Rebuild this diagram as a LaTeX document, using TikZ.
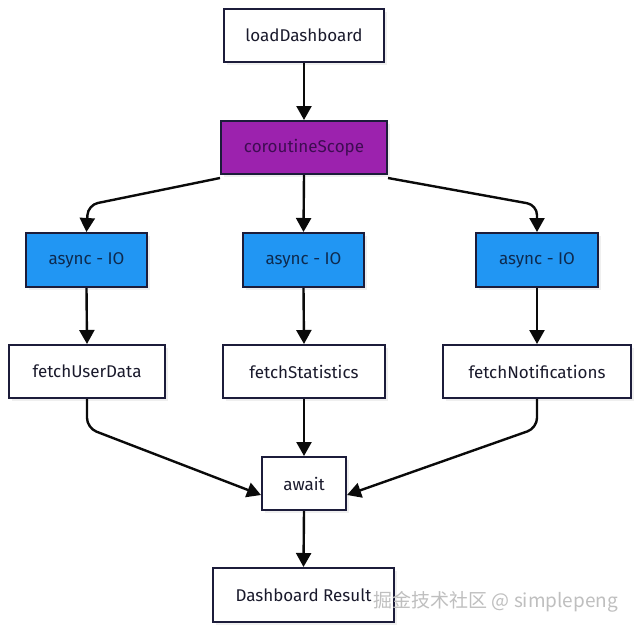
\documentclass[tikz,border=0pt]{standalone}
\usepackage{fontspec}
\setmainfont{Fira Sans}
\newfontfamily\cjkfont{Noto Sans CJK SC}
\usetikzlibrary{arrows.meta,shadows}
\definecolor{edgeblack}{HTML}{0A0A0A}
\definecolor{boxline}{HTML}{1C1C3A}
\definecolor{txt}{HTML}{1A1A2C}
\definecolor{purplefill}{HTML}{9C22AE}
\definecolor{purpletxt}{HTML}{3E0C52}
\definecolor{bluefill}{HTML}{2196F3}
\definecolor{bluetxt}{HTML}{0E2A4E}
\tikzset{
  box/.style={draw=boxline, line width=2pt, fill=white, text=txt, inner sep=0pt,
    font=\fontsize{17}{20}\selectfont,
    drop shadow={opacity=0.12, shadow xshift=3pt, shadow yshift=-3pt}},
  purplebox/.style={box, fill=purplefill, text=purpletxt},
  bluebox/.style={box, fill=bluefill, text=bluetxt},
  conn/.style={draw=edgeblack, line width=2.4pt, rounded corners=10pt,
    -{Triangle[length=14pt,width=15pt]}},
  wmark/.style={text=gray!50, font=\cjkfont\fontsize{19}{22}\selectfont}
}
\begin{document}
\begin{tikzpicture}[x=1pt,y=-1pt]
\useasboundingbox (0,0) rectangle (640,632);
\fill[white] (0,0) rectangle (640,632);
\node[box, minimum width=160pt, minimum height=53pt] (load) at (304,35.5) {loadDashboard};
\node[purplebox, minimum width=166pt, minimum height=53pt] (scope) at (304,147.5) {coroutineScope};
\node[bluebox, minimum width=121pt, minimum height=54pt] (a1) at (86.5,260) {async - IO};
\node[bluebox, minimum width=121pt, minimum height=54pt] (a2) at (303.5,260) {async - IO};
\node[bluebox, minimum width=122pt, minimum height=54pt] (a3) at (537,260) {async - IO};
\node[box, minimum width=156pt, minimum height=53pt] (f1) at (87,371.5) {fetchUserData};
\node[box, minimum width=162pt, minimum height=53pt] (f2) at (304,371.5) {fetchStatistics};
\node[box, minimum width=188pt, minimum height=53pt] (f3) at (537,371.5) {fetchNotifications};
\node[box, minimum width=84pt, minimum height=53pt] (aw) at (304,483.5) {await};
\node[box, minimum width=181pt, minimum height=54pt] (res) at (303.5,595) {Dashboard Result};
\node[wmark, anchor=west] (wm) at (370,602) {掘金技术社区 @ simplepeng};

\coordinate (c1) at (88,205);
\coordinate (c3) at (537,205);
\coordinate (d1) at (87,428);
\coordinate (d3) at (537,428);
\draw[conn] (load.south) -- (scope.north);
\draw[conn] ([yshift=-3pt]scope.south west) -- (c1) -- (a1.north);
\draw[conn] (scope.south) -- (a2.north);
\draw[conn] ([yshift=-3pt]scope.south east) -- (c3) -- (a3.north);
\draw[conn] (a1.south) -- (f1.north);
\draw[conn] (a2.south) -- (f2.north);
\draw[conn] (a3.south) -- (f3.north);
\draw[conn] (f1.south) -- (d1) -- ([yshift=-11.5pt]aw.west);
\draw[conn] (f2.south) -- (aw.north);
\draw[conn] (f3.south) -- (d3) -- ([yshift=-11.5pt]aw.east);
\draw[conn] (aw.south) -- (res.north);
\end{tikzpicture}
\end{document}
